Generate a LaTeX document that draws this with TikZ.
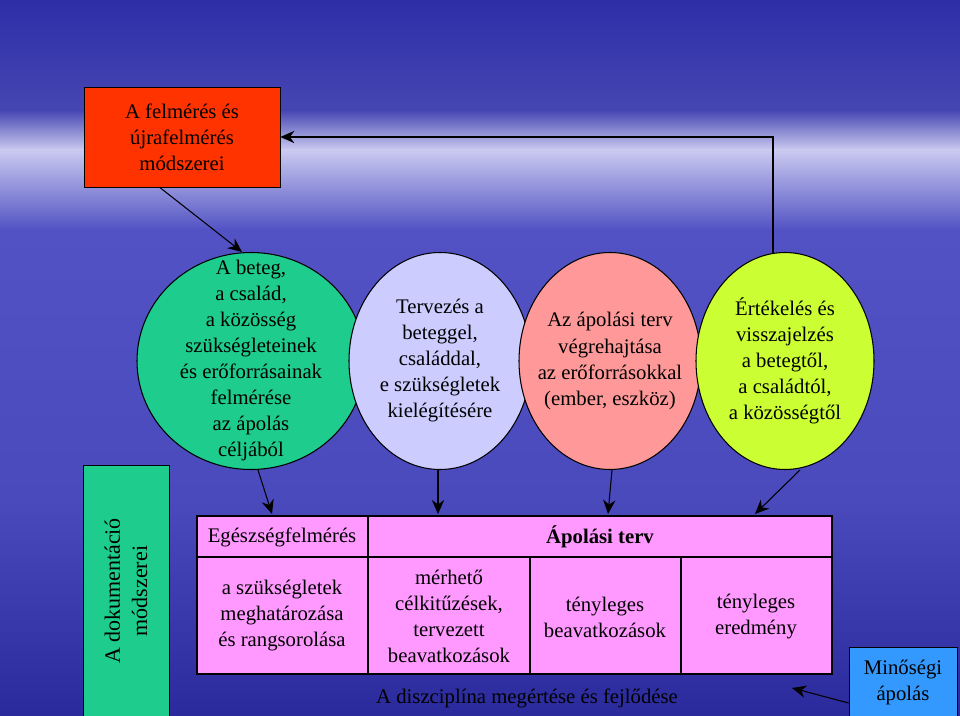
\documentclass[tikz,border=0pt]{standalone}
\usepackage{fontspec}
\setmainfont{Liberation Serif}
\usetikzlibrary{shapes.geometric,arrows.meta}
\definecolor{bgtop}{HTML}{2E2EA8}
\definecolor{bglight}{HTML}{CACAF0}
\definecolor{bgmid}{HTML}{5252C4}
\definecolor{bgbot}{HTML}{2A2A9C}
\definecolor{cgreen}{HTML}{1ECC8E}
\definecolor{clav}{HTML}{CCCCFF}
\definecolor{cpink}{HTML}{FF9999}
\definecolor{cyel}{HTML}{CCFF33}
\definecolor{cred}{HTML}{FF3300}
\definecolor{cmag}{HTML}{FF99FF}
\definecolor{cblue}{HTML}{3399FF}
\begin{document}
\begin{tikzpicture}[x=0.02cm,y=-0.02cm,
  txt/.style={font=\fontsize{11.8}{14.8}\selectfont,align=center,inner sep=0pt},
  blob/.style={ellipse,draw=black,line width=0.6pt,inner sep=0pt,minimum height=217*0.02cm},
  cell/.style={draw=black,line width=0.8pt,fill=cmag},
  arr/.style={-{Stealth[length=8pt,width=7pt]},line width=0.6pt,black}]
\useasboundingbox (0,0) rectangle (960,716);
\shade[top color=bgtop,bottom color=bgtop!85!bglight] (0,0) rectangle (960,110);
\shade[top color=bgtop!85!bglight,bottom color=bglight] (0,110) rectangle (960,150);
\shade[top color=bglight,bottom color=bgmid] (0,150) rectangle (960,230);
\shade[top color=bgmid,bottom color=bgmid!80!bgbot] (0,230) rectangle (960,500);
\shade[top color=bgmid!80!bgbot,bottom color=bgbot] (0,500) rectangle (960,716);

\node[draw=black,fill=cred,txt,minimum width=196*0.02cm,minimum height=100*0.02cm] (red) at (182,137) {A felmérés és\\újrafelmérés\\módszerei};

\node[blob,fill=cgreen,minimum width=228*0.02cm] (g) at (251,361) {};
\node[txt] (gt) at (g.center) {A beteg,\\a család,\\a közösség\\szükségleteinek\\és erőforrásainak\\felmérése\\az ápolás\\céljából};
\node[blob,fill=clav,minimum width=182*0.02cm] (l) at (440,361) {};
\node[txt] (lt) at (l.center) {Tervezés a\\beteggel,\\családdal,\\e szükségletek\\kielégítésére};
\node[blob,fill=cpink,minimum width=182*0.02cm] (p) at (610,361) {};
\node[txt] (pt) at (p.center) {Az ápolási terv\\végrehajtása\\az erőforrásokkal\\(ember, eszköz)};
\node[blob,fill=cyel,minimum width=178*0.02cm] (y) at (785,361) {};
\node[txt] (yt) at (y.center) {Értékelés és\\visszajelzés\\a betegtől,\\a családtól,\\a közösségtől};

\draw[arr] (red.south west) ++(76,0) coordinate (r1) -- (242,252) coordinate (g1);
\draw[arr] (773,254) coordinate (y1) |- (red.east);

% table
\draw[cell] (197,516) rectangle (832,674);
\draw[line width=0.8pt] (197,557) -- (832,557) (368,516) -- (368,674) (530,557) -- (530,674) (681,557) -- (681,674);
\node[txt] (h1) at (282,537) {Egészségfelmérés};
\node[txt,font=\fontsize{11.8}{14.8}\selectfont\bfseries] (h2) at (600,537) {Ápolási terv};
\node[txt] (c1) at (282,616) {a szükségletek\\meghatározása\\és rangsorolása};
\node[txt] (c2) at (449,616) {mérhető\\célkitűzések,\\tervezett\\beavatkozások};
\node[txt] (c3) at (605,617) {tényleges\\beavatkozások};
\node[txt] (c4) at (756,617) {tényleges\\eredmény};

\coordinate (t1) at (272,514); \coordinate (t2) at (438,514);
\coordinate (t3) at (608,514); \coordinate (t4) at (755,514);
\draw[arr] (258,470) -- (t1);
\draw[arr] (438,470) -- (t2);
\draw[arr] (612,470) -- (t3);
\draw[arr] (800,470) -- (t4);

\node[draw=black,fill=cgreen,minimum width=86*0.02cm,minimum height=252*0.02cm,inner sep=0pt] (doc) at (126,591) {};
\node[txt,rotate=90,text=black,font=\fontsize{12.5}{15.5}\selectfont] (doct) at (doc.center) {A dokumentáció\\módszerei};

\node[draw=black,fill=cblue,txt,minimum width=108*0.02cm,minimum height=70*0.02cm] (q) at (903,682) {Minőségi\\ápolás};
\node[txt] (disc) at (527,698) {A diszciplína megértése és fejlődése};
\draw[arr] (q.west |- 0,703) coordinate (q1) -- (792,688) coordinate (d1);
\end{tikzpicture}
\end{document}
